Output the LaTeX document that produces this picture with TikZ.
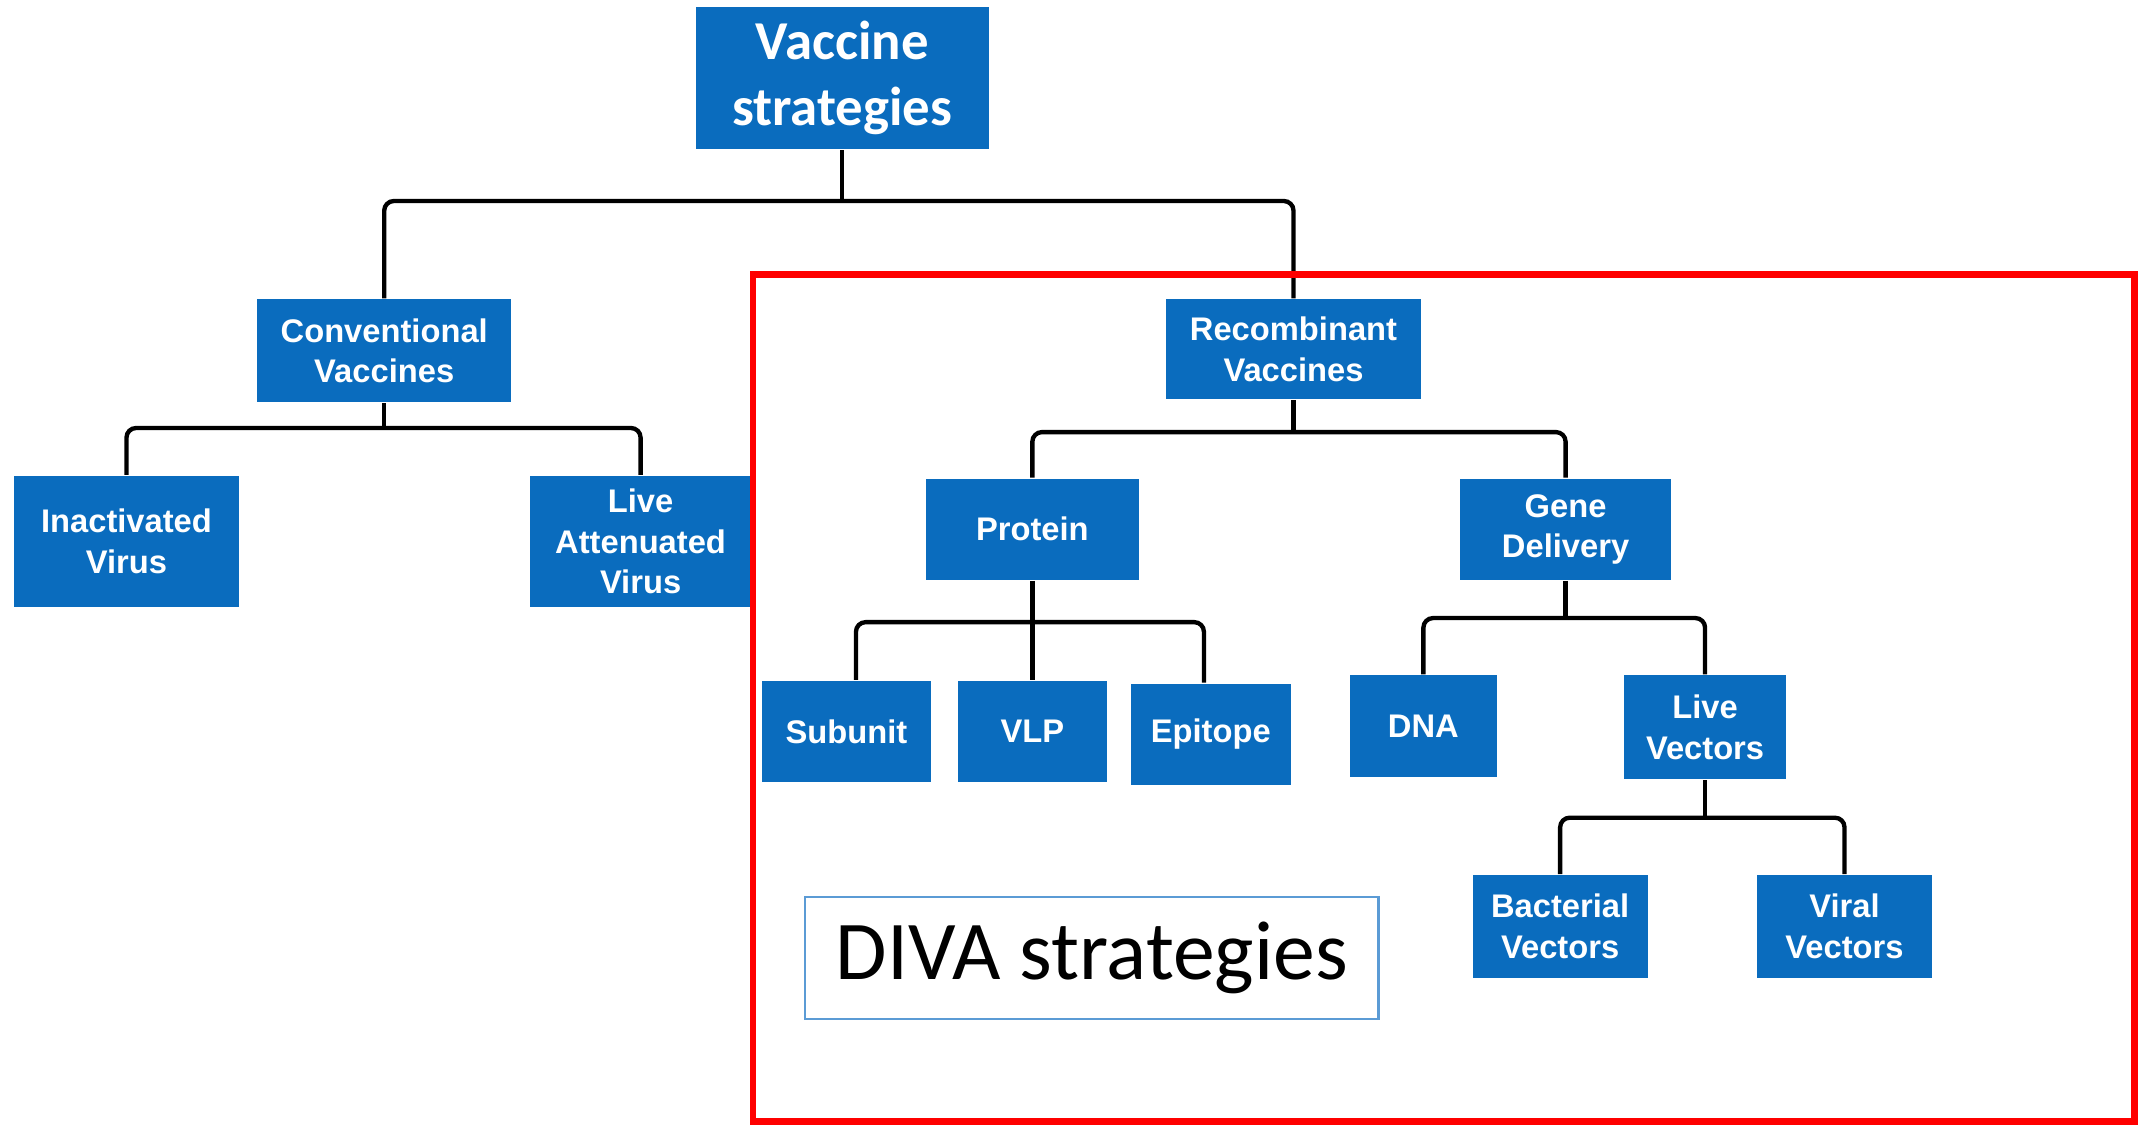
\documentclass[tikz,border=0pt]{standalone}
\usepackage{fontspec}
\setmainfont{Liberation Sans}
\newfontfamily\boxfont{Liberation Sans}
\newfontfamily\calibfont{Carlito}
\usepackage{tikz}
\usetikzlibrary{positioning}
\definecolor{boxblue}{RGB}{10,108,190}
\definecolor{divaline}{RGB}{91,155,213}
\tikzset{
  vbox/.style={ fill=boxblue, text=white, font=\boxfont\bfseries\fontsize{6.8}{8.4}\selectfont, align=center, inner sep=0pt }
}
\tikzset{
  topbox/.style={ vbox, font=\calibfont\bfseries\fontsize{11.4}{13.6}\selectfont }
}
\tikzset{
  link/.style={ draw=black, line width=0.9pt, rounded corners=2pt }
}

\begin{document}
\begin{tikzpicture}[x=0.01cm, y=-0.01cm]
      \useasboundingbox (0,0) rectangle (1568,823);

      \node[topbox, minimum width=2.14cm, minimum height=1.04cm] (vs) at (616,57) {Vaccine\\strategies};
      \node[vbox, minimum width=1.86cm, minimum height=0.75cm] (conv) at (281,256.5) {Conventional\\Vaccines};
      \node[vbox, minimum width=1.86cm, minimum height=0.73cm] (rec) at (946,255.5) {Recombinant\\Vaccines};

      \node[vbox, minimum width=1.65cm, minimum height=0.96cm] (inact) at (92.5,396) {Inactivated\\Virus};
      \node[vbox, minimum width=1.61cm, minimum height=0.96cm] (liveatt) at (468.5,396) {Live\\Attenuated\\Virus};

      \node[vbox, minimum width=1.56cm, minimum height=0.74cm] (prot) at (755,387) {Protein};
      \node[vbox, minimum width=1.54cm, minimum height=0.74cm] (gene) at (1145,387) {Gene\\Delivery};

      \node[vbox, minimum width=1.24cm, minimum height=0.74cm] (sub) at (619,535) {Subunit};
      \node[vbox, minimum width=1.09cm, minimum height=0.74cm] (vlp) at (755,535) {VLP};
      \node[vbox, minimum width=1.17cm, minimum height=0.74cm] (epi) at (885.5,537) {Epitope};
      \node[vbox, minimum width=1.08cm, minimum height=0.74cm] (dna) at (1041,531) {DNA};
      \node[vbox, minimum width=1.18cm, minimum height=0.76cm] (livevec) at (1247,532) {Live\\Vectors};

      \node[vbox, minimum width=1.28cm, minimum height=0.75cm] (bact) at (1141,677.5) {Bacterial\\Vectors};
      \node[vbox, minimum width=1.28cm, minimum height=0.75cm] (viral) at (1349,677.5) {Viral\\Vectors};

      \coordinate (b1) at (616,147);
      \coordinate (b2) at (281,313);
      \coordinate (b3) at (946,316);
      \coordinate (b4) at (755,455);
      \coordinate (b5) at (1145,452);
      \coordinate (b6) at (1247,598);

      \draw[link] (conv.north) |- (b1) -| (rec.north);
      \draw[link] (vs.south) -- (b1);
      \draw[link] (inact.north) |- (b2) -| (liveatt.north);
      \draw[link] (conv.south) -- (b2);
      \draw[link] ([xshift=0.07cm]sub.north) |- (b4) -| ([xshift=-0.05cm]epi.north);
      \draw[link] (prot.south) -- (b4) -- (vlp.north);
      \draw[link] (prot.north) |- (b3) -| (gene.north);
      \draw[link] (rec.south) -- (b3);
      \draw[link] (dna.north) |- (b5) -| (livevec.north);
      \draw[link] (gene.south) -- (b5);
      \draw[link] (bact.north) |- (b6) -| (viral.north);
      \draw[link] (livevec.south) -- (b6);

      \node[draw=divaline, line width=0.5pt, minimum width=4.19cm, minimum height=0.89cm, font=\calibfont\fontsize{17.4}{20}\selectfont] (diva) at (798.5,700.5) {DIVA strategies};
      \node[draw=red, line width=0.05cm, minimum width=10.1cm, minimum height=6.19cm, inner sep=0pt] (frame) at (1056,510.5) {};
    \end{tikzpicture}
\end{document}
